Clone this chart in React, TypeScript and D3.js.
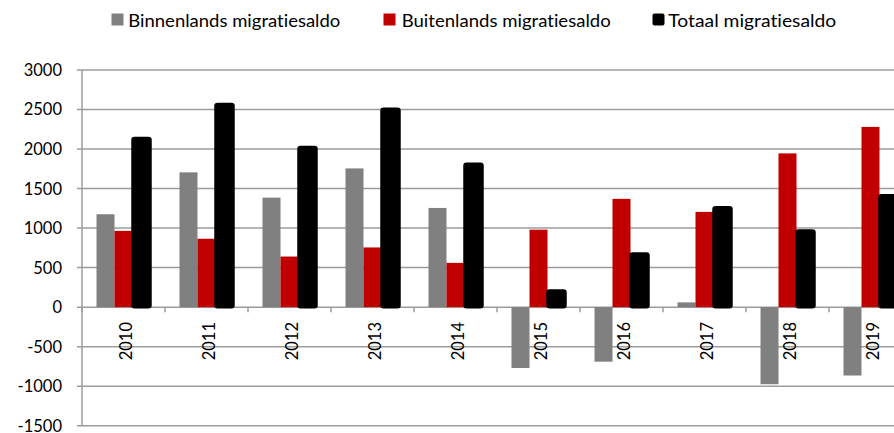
import React from "react";
import * as d3 from "d3";

const years = ["2010", "2011", "2012", "2013", "2014", "2015", "2016", "2017", "2018", "2019"];
const binnenlands = [1175, 1705, 1385, 1755, 1255, -770, -690, 60, -975, -865];
const buitenlands = [965, 865, 640, 755, 560, 980, 1370, 1205, 1945, 2280];
const totaal = [2140, 2570, 2025, 2510, 1815, 210, 680, 1265, 970, 1415];
const yTicks = [-1500, -1000, -500, 0, 500, 1000, 1500, 2000, 2500, 3000];
const seriesNames = ["Binnenlands migratiesaldo", "Buitenlands migratiesaldo", "Totaal migratiesaldo"];
const seriesColors = ["#808080", "#c00000", "#000000"];

const W = 894;
const H = 433;
const FONT = "Lato, 'Noto Sans', sans-serif";

export default function App() {
  const x = d3.scaleBand<string>().domain(years).range([82, 912]).padding(0);
  const inner = d3.scaleBand<number>().domain([0, 1, 2]).range([14.5, 68.5]).padding(0);
  const y = d3.scaleLinear().domain([-1500, 3000]).range([425.7, 70]);
  const series = [binnenlands, buitenlands, totaal];
  const y0 = y(0);
  const legendSq = [111.5, 383.5, 652.5];
  const legendTx = [128.3, 401.7, 668.3];
  const legendLen = [212, 209, 168];

  return (
    <svg
      width={W}
      height={H}
      style={{ position: "absolute", left: 0, top: 0, background: "#fff", fontVariantLigatures: "none" }}
      fontFamily={FONT}
    >
      {yTicks.map((t) => (
        <line key={"g" + t} x1={77} x2={W} y1={y(t)} y2={y(t)} stroke="#9c9c9c" strokeWidth={1.5} />
      ))}
      <line x1={82} x2={82} y1={y(3000)} y2={y(-1500)} stroke="#9c9c9c" strokeWidth={1.5} />
      {yTicks.map((t) => (
        <text key={"yl" + t} x={62} y={y(t)} dy="0.36em" textAnchor="end" fontSize={16.5} fill="#000">
          {t}
        </text>
      ))}
      {years.map((yr) => (
        <line key={"xt" + yr} x1={x(yr)!} x2={x(yr)!} y1={y0} y2={y0 + 5} stroke="#9c9c9c" strokeWidth={1.5} />
      ))}
      <line x1={x(years[years.length - 1])! + x.bandwidth()} x2={x(years[years.length - 1])! + x.bandwidth()} y1={y0} y2={y0 + 5} stroke="#9c9c9c" strokeWidth={1.5} />
      {series.map((vals, si) =>
        vals.map((v, i) => {
          const bx = x(years[i])! + inner(si)!;
          const top = Math.min(y(v), y0);
          const h = Math.abs(y(v) - y0);
          const isTotal = si === 2;
          return (
            <rect
              key={"b" + si + "-" + i}
              x={bx}
              y={top}
              width={inner.bandwidth()}
              height={h}
              fill={seriesColors[si]}
              stroke={isTotal ? "#000" : "none"}
              strokeWidth={isTotal ? 2.5 : 0}
              rx={isTotal ? 2 : 0}
            />
          );
        })
      )}
      {years.map((yr) => (
        <text
          key={"xl" + yr}
          transform={`translate(${x(yr)! + x.bandwidth() / 2 + 3},322) rotate(-90)`}
          textAnchor="end"
          dy="0.36em"
          fontSize={16.5}
          fill="#000"
        >
          {yr}
        </text>
      ))}
      {seriesNames.map((n, i) => (
        <g key={"lg" + i}>
          <rect x={legendSq[i]} y={13.5} width={12} height={12} fill={seriesColors[i]} rx={i === 2 ? 2 : 0} />
          <text
            x={legendTx[i]}
            y={26.5}
            fontSize={18}
            fill="#000"
            textLength={legendLen[i]}
            lengthAdjust="spacingAndGlyphs"
          >
            {n}
          </text>
        </g>
      ))}
    </svg>
  );
}
